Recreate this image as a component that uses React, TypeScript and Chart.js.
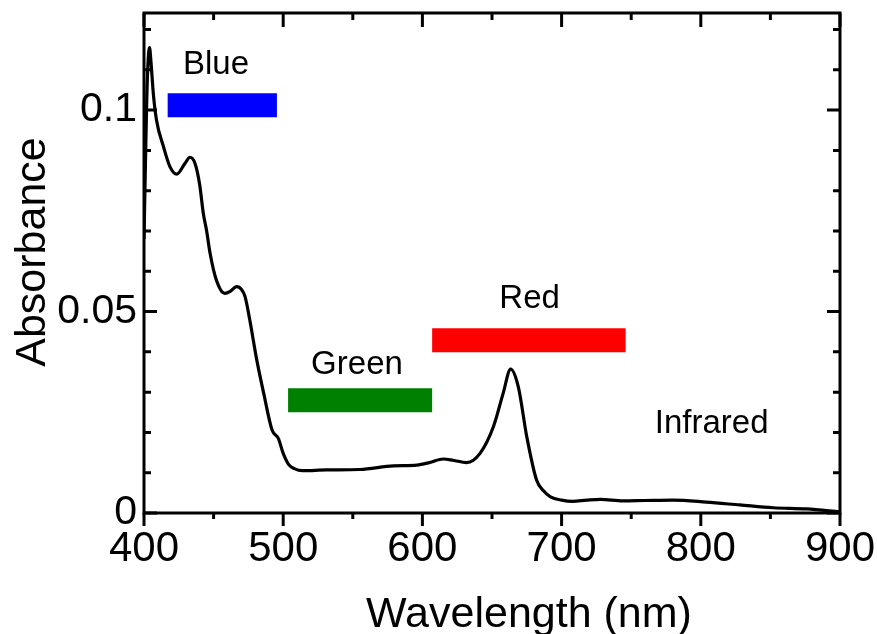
import React, { useEffect, useRef } from "react";
import { Chart, registerables } from "chart.js";

Chart.register(...registerables);

// Spectrum data (wavelength in nm, absorbance)
const wavelengths = [
  400, 401, 402, 403, 404, 405, 406.7, 409, 414, 418.7, 423.5, 429.5, 433, 436.6, 440,
  442.6, 445, 447.5, 452, 458, 462, 466.5, 470, 472.6, 476, 481, 486, 492, 496.5, 500,
  504, 508, 514, 531, 555, 579, 596, 605, 615, 622, 631.8, 641.4, 651, 658, 663.4, 668.9,
  675, 682, 687, 692, 700, 708, 718, 728, 744, 760, 780, 804, 828, 852, 876, 900,
];
const absorbance = [
  0.068, 0.086, 0.103, 0.1125, 0.1155, 0.112, 0.1041, 0.0975, 0.0909, 0.0859, 0.0841, 0.0868,
  0.0883, 0.0868, 0.0815, 0.0744, 0.07, 0.0644, 0.0578, 0.0545, 0.055, 0.0562, 0.0555, 0.0537,
  0.0479, 0.038, 0.0297, 0.0206, 0.0185, 0.0148, 0.012, 0.011, 0.0105, 0.0107, 0.0108, 0.0117,
  0.0119, 0.0125, 0.0134, 0.0131, 0.0125, 0.0148, 0.0214, 0.0297, 0.0357, 0.0313, 0.0189,
  0.0082, 0.0055, 0.004, 0.0032, 0.0029, 0.0032, 0.0034, 0.003, 0.0031, 0.0032, 0.0027, 0.002,
  0.0013, 0.001, 0.0003,
];

// Colour bands: name, start nm, end nm, absorbance level, colour
const bandNames = ["Blue", "Green", "Red"];
const bandStart = [417, 503.5, 607];
const bandEnd = [495.5, 607, 746];
const bandLevel = [0.1012, 0.028, 0.0429];
const bandColors = ["#0000ff", "#008000", "#ff0000"];

// Text labels: text, x (nm), y (absorbance, baseline)
const labelTexts = ["Blue", "Green", "Red", "Infrared"];
const labelX = [451.7, 553, 677, 807.8];
const labelY = [0.109, 0.0345, 0.0509, 0.0199];

// Axes
const xTitle = "Wavelength (nm)";
const yTitle = "Absorbance";
const xMin = 400;
const xMax = 900;
const xMajorStep = 100;
const xMinorStep = 50;
const yMin = 0;
const yMax = 0.1241;
const yMajorStep = 0.05;
const yMinorStep = 0.01;

const FONT = '"Liberation Sans", Arial, Helvetica, sans-serif';

const framePlugin = {
  id: "frameTicks",
  afterDraw(chart: any) {
    const { ctx, chartArea } = chart;
    const xs = chart.scales.x;
    const ys = chart.scales.y;
    const { left, right, top, bottom } = chartArea;
    ctx.save();
    ctx.strokeStyle = "#000";
    ctx.lineWidth = 3;
    ctx.lineCap = "butt";
    ctx.strokeRect(left, top, right - left, bottom - top);
    const MAJ = 13;
    const MIN = 7;
    // x ticks
    for (let v = xMin; v <= xMax + 1e-9; v += xMinorStep) {
      const px = xs.getPixelForValue(v);
      const major = Math.abs(v / xMajorStep - Math.round(v / xMajorStep)) < 1e-6;
      const len = major ? MAJ : MIN - 1;
      ctx.beginPath();
      ctx.moveTo(px, bottom);
      ctx.lineTo(px, bottom + len);
      ctx.moveTo(px, top);
      ctx.lineTo(px, top + (major ? MAJ + 1 : MIN));
      ctx.stroke();
    }
    // y ticks
    for (let i = 0; ; i++) {
      const v = yMin + i * yMinorStep;
      if (v > yMax) break;
      const py = ys.getPixelForValue(v);
      const major = i % Math.round(yMajorStep / yMinorStep) === 0;
      const len = major ? MAJ : MIN;
      ctx.beginPath();
      ctx.moveTo(left, py);
      ctx.lineTo(left + len, py);
      ctx.moveTo(right, py);
      ctx.lineTo(right - len, py);
      ctx.stroke();
    }
    // text labels
    ctx.fillStyle = "#000";
    ctx.font = `33px ${FONT}`;
    ctx.textAlign = "center";
    ctx.textBaseline = "alphabetic";
    labelTexts.forEach((t, i) => {
      ctx.fillText(t, xs.getPixelForValue(labelX[i]), ys.getPixelForValue(labelY[i]));
    });
    // axis titles
    ctx.font = `43px ${FONT}`;
    ctx.fillText(xTitle, (left + right) / 2 + 37, 627);
    ctx.save();
    ctx.translate(45, (top + bottom) / 2 - 11);
    ctx.rotate(-Math.PI / 2);
    ctx.fillText(yTitle, 0, 0);
    ctx.restore();
    ctx.restore();
  },
};

export default function App() {
  const ref = useRef<HTMLCanvasElement | null>(null);
  useEffect(() => {
    if (!ref.current) return;
    const bandSets = bandNames.map((name, i) => ({
      label: name,
      data: [
        { x: bandStart[i], y: bandLevel[i] },
        { x: bandEnd[i], y: bandLevel[i] },
      ],
      borderColor: bandColors[i],
      backgroundColor: bandColors[i],
      borderWidth: 24,
      borderCapStyle: "butt" as const,
      pointRadius: 0,
      tension: 0,
    }));
    const chart = new Chart(ref.current, {
      type: "line",
      data: {
        datasets: [
          ...bandSets,
          {
            label: "Absorbance",
            data: wavelengths.map((w, i) => ({ x: w, y: absorbance[i] })),
            borderColor: "#000",
            borderWidth: 3.2,
            pointRadius: 0,
            cubicInterpolationMode: "monotone" as const,
            fill: false,
          },
        ],
      },
      options: {
        animation: false,
        responsive: false,
        maintainAspectRatio: false,
        layout: { padding: { top: 13, right: 37, left: 0, bottom: 0 } },
        plugins: { legend: { display: false }, tooltip: { enabled: false } },
        scales: {
          x: {
            type: "linear",
            min: xMin,
            max: xMax,
            grid: { display: false, drawTicks: false },
            border: { display: false },
            ticks: {
              stepSize: xMajorStep,
              includeBounds: false,
              color: "#000",
              font: { family: FONT, size: 42 },
              padding: 11,
              maxRotation: 0,
              callback: (v: any) => String(v),
            },
            title: { display: false },
            afterFit: (s: any) => {
              s.height = 121;
              s.paddingLeft = 0;
              s.paddingRight = 0;
            },
          },
          y: {
            type: "linear",
            min: yMin,
            max: yMax,
            grid: { display: false, drawTicks: false },
            border: { display: false },
            ticks: {
              stepSize: yMajorStep,
              includeBounds: false,
              color: "#000",
              font: { family: FONT, size: 41 },
              padding: 7,
              callback: (v: any) => String(+Number(v).toFixed(3)),
            },
            title: { display: false },
            afterFit: (s: any) => {
              s.width = 144;
              s.paddingTop = 0;
              s.paddingBottom = 0;
            },
          },
        },
      },
      plugins: [framePlugin],
    });
    return () => chart.destroy();
  }, []);
  return (
    <div style={{ position: "fixed", left: 0, top: 0, width: 877, height: 634, background: "#fff" }}>
      <canvas ref={ref} width={877} height={634} style={{ width: 877, height: 634 }} />
    </div>
  );
}
